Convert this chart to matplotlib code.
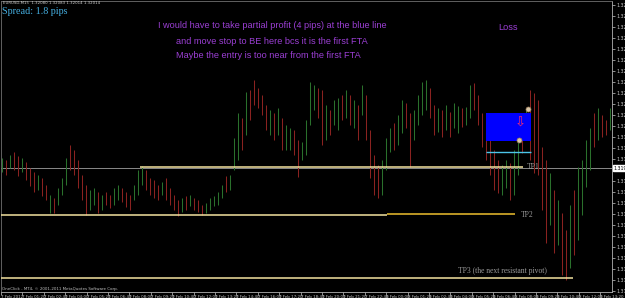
import numpy as np
import matplotlib
matplotlib.use("Agg")
import matplotlib.pyplot as plt

# EURUSD M15 bars
highs = [
    1.31930, 1.31924, 1.31939, 1.31948, 1.31936, 1.31930, 1.31918, 1.31900, 1.31888, 1.31879,
    1.31870, 1.31849, 1.31819, 1.31810, 1.31840, 1.31870, 1.31930, 1.31969, 1.31954, 1.31924,
    1.31879, 1.31849, 1.31834, 1.31840, 1.31828, 1.31819, 1.31828, 1.31819, 1.31840, 1.31849,
    1.31840, 1.31828, 1.31819, 1.31849, 1.31894, 1.31906, 1.31894, 1.31870, 1.31864, 1.31849,
    1.31858, 1.31870, 1.31840, 1.31819, 1.31804, 1.31810, 1.31816, 1.31819, 1.31810, 1.31804,
    1.31789, 1.31795, 1.31810, 1.31816, 1.31828, 1.31849, 1.31876, 1.31879, 1.31990, 1.32065,
    1.32050, 1.32128, 1.32134, 1.32164, 1.32140, 1.32119, 1.32089, 1.32074, 1.32065, 1.32080,
    1.32050, 1.32029, 1.32020, 1.32014, 1.31984, 1.31978, 1.32044, 1.32158, 1.32149, 1.32140,
    1.32134, 1.32089, 1.32074, 1.32104, 1.32110, 1.32119, 1.32134, 1.32119, 1.32104, 1.32089,
    1.32149, 1.32119, 1.32014, 1.31939, 1.31909, 1.31924, 1.31990, 1.32020, 1.32035, 1.32059,
    1.32104, 1.32095, 1.32065, 1.32074, 1.32119, 1.32158, 1.32164, 1.32140, 1.32089, 1.32080,
    1.32074, 1.32089, 1.32068, 1.32095, 1.32086, 1.32080, 1.32083, 1.32149, 1.32155, 1.32119,
    1.32065, 1.32005, 1.31984, 1.31954, 1.31924, 1.31909, 1.31924, 1.31915, 1.31954, 1.31984,
    1.32014, 1.32074, 1.32134, 1.32125, 1.32104, 1.31963, 1.31924, 1.31885, 1.31834, 1.31804,
    1.31765, 1.31714, 1.31789, 1.31834, 1.31903, 1.31924, 1.31984, 1.32020, 1.32065, 1.32080,
    1.32059, 1.32044, 1.32080,
]
lows = [
    1.31888, 1.31879, 1.31900, 1.31894, 1.31876, 1.31888, 1.31864, 1.31846, 1.31828, 1.31834,
    1.31816, 1.31804, 1.31765, 1.31765, 1.31789, 1.31819, 1.31849, 1.31894, 1.31879, 1.31840,
    1.31804, 1.31759, 1.31774, 1.31789, 1.31765, 1.31774, 1.31789, 1.31780, 1.31789, 1.31804,
    1.31798, 1.31783, 1.31774, 1.31804, 1.31819, 1.31849, 1.31834, 1.31819, 1.31810, 1.31804,
    1.31819, 1.31804, 1.31789, 1.31774, 1.31756, 1.31768, 1.31774, 1.31786, 1.31774, 1.31768,
    1.31759, 1.31765, 1.31774, 1.31786, 1.31789, 1.31810, 1.31828, 1.31834, 1.31894, 1.31924,
    1.31954, 1.31999, 1.32044, 1.32089, 1.32080, 1.32059, 1.32014, 1.31999, 1.31984, 1.31999,
    1.31954, 1.31954, 1.31954, 1.31939, 1.31873, 1.31924, 1.31939, 1.32029, 1.32074, 1.32050,
    1.31969, 1.31984, 1.31999, 1.32029, 1.32014, 1.32044, 1.32050, 1.32029, 1.32020, 1.31984,
    1.32059, 1.31984, 1.31870, 1.31819, 1.31810, 1.31819, 1.31894, 1.31948, 1.31954, 1.31969,
    1.32005, 1.32020, 1.31903, 1.31984, 1.32029, 1.32059, 1.32074, 1.32050, 1.31999, 1.32008,
    1.31993, 1.32014, 1.31993, 1.32020, 1.32005, 1.32023, 1.32029, 1.32050, 1.32074, 1.32029,
    1.31963, 1.31924, 1.31879, 1.31834, 1.31825, 1.31819, 1.31840, 1.31804, 1.31819, 1.31879,
    1.31945, 1.31984, 1.31924, 1.31885, 1.31879, 1.31774, 1.31675, 1.31729, 1.31645, 1.31669,
    1.31579, 1.31564, 1.31600, 1.31639, 1.31684, 1.31759, 1.31843, 1.31894, 1.31963, 1.31984,
    1.31993, 1.31999, 1.32014,
]
# g = bull bar, r = bear bar
bar_dir = ("grgrrgrrrg" "rrgrgggrrr" "rrggrgrrgg" "rrrgggrrrr" "grrrrgrgrr"
           "rgggggrggg" "rgrrrrrgrg" "rggrrggggr" "rgrggrgrgr" "grrrrgggrg"
           "grrggggrrg" "rgrggrggrr" "rrrrrggrgg" "rgrrrrrgrg" "rrgrggggrg" "rrg")

time_labels = ["7 Feb 2012", "7 Feb 01:20", "7 Feb 02:40", "7 Feb 04:00", "7 Feb 05:20",
               "7 Feb 06:40", "7 Feb 08:00", "7 Feb 09:20", "7 Feb 10:40", "7 Feb 12:00",
               "7 Feb 13:20", "7 Feb 14:40", "7 Feb 16:00", "7 Feb 17:20", "7 Feb 18:40",
               "7 Feb 20:00", "7 Feb 21:20", "7 Feb 22:40", "8 Feb 00:00", "8 Feb 01:20",
               "8 Feb 02:40", "8 Feb 04:00", "8 Feb 05:20", "8 Feb 06:40", "8 Feb 08:00",
               "8 Feb 09:20", "8 Feb 10:40", "8 Feb 12:00", "8 Feb 13:20"]

bid = 1.31900
tp1 = 1.31903
tp2 = 1.31759
tp2b = 1.31762
tp3 = 1.31570
partial = 1.31948
box_top, box_bot = 1.32065, 1.31981
trade_pts = [1.32077, 1.31984]

W, H = 625, 298
fig = plt.figure(figsize=(W / 100, H / 100), dpi=100, facecolor="black")
ax = fig.add_axes([1 / W, 1 - 292 / H, 611 / W, 291 / H], facecolor="black")

def fx(x):
    return x / W

def fy(y):
    return 1 - y / H

x = np.arange(len(highs))
cols = ["#2a702c" if d == "g" else "#8a2220" for d in bar_dir]
ax.vlines(x, lows, highs, colors=cols, linewidth=0.75, zorder=2)

# horizontal levels
ax.axhline(bid, color="#8a8a8a", lw=0.7, zorder=1)
ax.hlines(tp1, 34.5, 130.2, color="#f3e3a0", lw=1.1, zorder=3)
ax.hlines(tp2, -0.25, 96.2, color="#f3e3a0", lw=1.1, zorder=3)
ax.hlines(tp2b, 96.2, 128.2, color="#c9a227", lw=1.3, zorder=3)
ax.hlines(tp3, -0.25, 142.7, color="#f3e3a0", lw=1.1, zorder=3)

# trade box
ax.fill_between([121, 132.2], box_bot, box_top, color="#0000ff", zorder=4, lw=0)
ax.hlines(partial, 121, 132.2, color="#4cc4e8", lw=1.0, zorder=4)
ax.text(129.5, 1.32036, "\u21e9", color="#ff2a6a", fontsize=9.5, ha="center",
        va="center", family="DejaVu Sans", zorder=5)
ax.plot([131.5, 129.3], trade_pts, "o", ms=3.6, mfc="#d8c6a8", mec="#9c7c5a",
        mew=0.5, zorder=6)

ax.text(131.3, tp1, "TP1", color="#9a9a9a", fontsize=5.5, family="Liberation Serif",
        va="center", ha="left", zorder=5)
ax.text(129.6, tp2, "TP2", color="#9a9a9a", fontsize=5.5, family="Liberation Serif",
        va="center", ha="left", zorder=5)
ax.text(114, 1.31590, "TP3 (the next resistant pivot)", color="#9a9a9a", fontsize=5.5,
        family="Liberation Serif", va="center", ha="left", zorder=5)

ax.set_xlim(-0.25, 152.5)
ax.set_ylim(1.31528, 1.32401)

yt = np.round(1.32389 - 0.00033 * np.arange(27), 5)
yt = yt[np.abs(yt - bid) > 0.00015]   # the bid box covers that slot
ax.yaxis.tick_right()
ax.set_yticks(yt, [f"{v:.5f}" for v in yt])
xt = np.arange(len(time_labels)) * 5.35 - 0.25
ax.set_xticks(xt, time_labels)
for lbl in ax.get_xticklabels():
    lbl.set_ha("left")
ax.tick_params(axis="y", colors="#c8c8c8", labelsize=3.4, length=2, width=0.5, pad=1)
ax.tick_params(axis="x", colors="#c8c8c8", labelsize=2.9, length=2, width=0.5, pad=0.5)
for s in ["right", "bottom"]:
    ax.spines[s].set_color("#b0b0b0")
    ax.spines[s].set_linewidth(0.6)
for s in ["left", "top"]:
    ax.spines[s].set_color("#707070")
    ax.spines[s].set_linewidth(0.6)

ax.text(1.003, bid, f"{bid:.5f}", transform=ax.get_yaxis_transform(), fontsize=3.4,
        color="black", va="center", ha="left",
        bbox=dict(boxstyle="square,pad=0.15", fc="white", ec="white"))

# overlay texts
fig.text(fx(3), fy(3), "EURUSD,M15  1.32080 1.32083 1.32014 1.32014", color="#d0d0d0",
         fontsize=2.8, va="center", ha="left")
fig.text(fx(2.5), fy(11), "Spread: 1.8 pips", color="#45aee0", fontsize=7.3,
         family="Liberation Serif", va="center", ha="left")
purple = "#9b3fd4"
fig.text(fx(272), fy(26), "I would have to take partial profit (4 pips) at the blue line",
         color=purple, fontsize=6.6, family="Liberation Sans", ha="center", va="center")
fig.text(fx(272), fy(42), "and move stop to BE here bcs it is the first FTA",
         color=purple, fontsize=6.6, family="Liberation Sans", ha="center", va="center")
fig.text(fx(268), fy(55), "Maybe the entry is too near from the first FTA",
         color=purple, fontsize=6.6, family="Liberation Sans", ha="center", va="center")
fig.text(fx(508), fy(27), "Loss", color=purple, fontsize=6.6, family="Liberation Sans",
         ha="center", va="center")
fig.text(fx(2), fy(289), "OneClick - MT4, \u00a9 2001-2011 MetaQuotes Software Corp.",
         color="#c0c0c0", fontsize=2.9, ha="left", va="center")

fig.savefig("out.png", dpi=100, facecolor="black")
